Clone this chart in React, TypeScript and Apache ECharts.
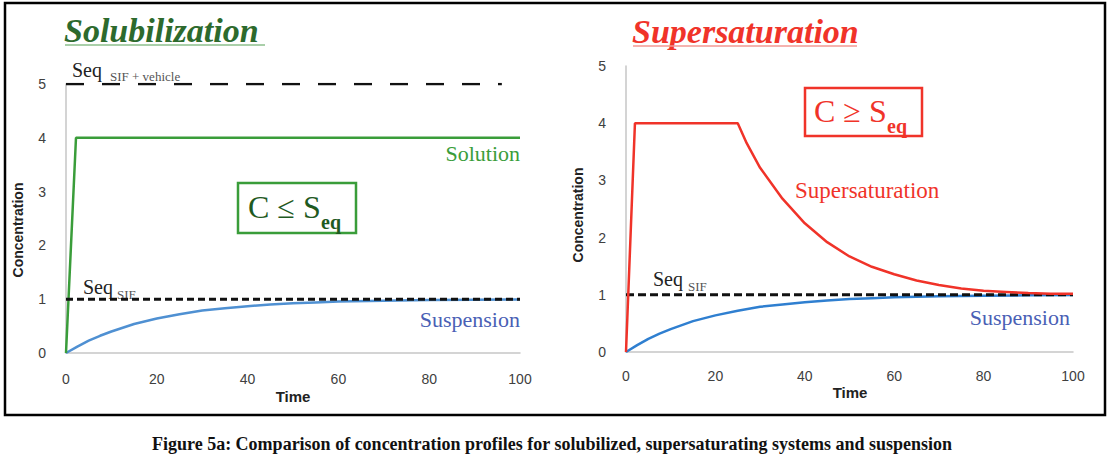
import React, { useEffect, useRef } from "react";
import * as echarts from "echarts";

// ---- Data ----
const solutionTime = [0, 2.2, 100];
const solutionConc = [0, 4, 4];

const suspensionTime = [0, 2.5, 5, 7.5, 10, 15, 20, 25, 30, 35, 40, 45, 50, 55, 60, 70, 80, 90, 100];
const suspensionConc = [0, 0.12, 0.23, 0.32, 0.4, 0.54, 0.64, 0.72, 0.79, 0.83, 0.87, 0.9, 0.925, 0.94, 0.955, 0.973, 0.985, 0.99, 0.995];

const superTime = [0, 2, 25, 27, 30, 35, 40, 45, 50, 55, 60, 65, 70, 75, 80, 85, 90, 95, 100];
const superConc = [0, 4, 4, 3.65, 3.22, 2.68, 2.25, 1.92, 1.67, 1.49, 1.36, 1.25, 1.17, 1.11, 1.07, 1.05, 1.03, 1.02, 1.02];

const seqVehicleTime = [0, 96];
const seqVehicleConc = [5, 5];
const seqSifTime = [0, 100];
const seqSifConc = [1, 1];

const timeMin = 0;
const timeMax = 100;
const timeStep = 20;
const concMin = 0;
const concMax = 5;
const concStep = 1;

const pairs = (xs: number[], ys: number[]) => xs.map((x, i) => [x, ys[i]]);

const GREEN = "#3a9d3a";
const DARK_GREEN = "#2d6a2d";
const BLUE = "#5b9bd5";
const BLUE_TEXT = "#4a5fb5";
const RED = "#f03329";
const SERIF = "'Liberation Serif', 'DejaVu Serif', serif";
const SANS = "'Liberation Sans', 'DejaVu Sans', sans-serif";

function txt(x: number, y: number, text: string, s: any, extra: any = {}) {
  return {
    type: "text",
    x,
    y,
    ...extra,
    style: {
      text,
      fontFamily: SERIF,
      align: s.align || "left",
      textAlign: s.align || "left",
      verticalAlign: s.va || "middle",
      textVerticalAlign: s.va || "middle",
      ...s,
    },
  };
}

export default function App() {
  const ref = useRef<HTMLDivElement>(null);

  useEffect(() => {
    document.body.style.margin = "0";
    if (!ref.current) return;
    const chart = echarts.init(ref.current, undefined, { renderer: "svg" });

    const xAxisBase = {
      type: "value",
      min: timeMin,
      max: timeMax,
      interval: timeStep,
      axisLine: { show: true, lineStyle: { color: "#c6c6c6", width: 1.5 } },
      axisTick: { show: false },
      splitLine: { show: false },
      axisLabel: { color: "#404040", fontSize: 14, fontFamily: SANS },
    };
    const yAxisBase = {
      type: "value",
      min: concMin,
      max: concMax,
      interval: concStep,
      axisLine: { show: true, lineStyle: { color: "#c6c6c6", width: 1.5 } },
      axisTick: { show: false },
      splitLine: { show: false },
      axisLabel: { color: "#404040", fontSize: 14, fontFamily: SANS },
    };

    const lineSeries = (name: string, xi: number, data: number[][], color: string, width: number, type: any = "solid", z = 2) => ({
      name,
      type: "line",
      xAxisIndex: xi,
      yAxisIndex: xi,
      data,
      symbol: "none",
      showSymbol: false,
      z,
      lineStyle: { color, width, type, cap: "butt" },
      emphasis: { disabled: true },
    });

    chart.setOption({
      animation: false,
      backgroundColor: "#ffffff",
      grid: [
        { left: 66, top: 84, width: 454, height: 269 },
        { left: 626, top: 66, width: 447, height: 286 },
      ],
      xAxis: [
        { ...xAxisBase, gridIndex: 0, axisLabel: { ...xAxisBase.axisLabel, margin: 19 } },
        { ...xAxisBase, gridIndex: 1, axisLabel: { ...xAxisBase.axisLabel, margin: 17 } },
      ],
      yAxis: [
        { ...yAxisBase, gridIndex: 0, axisLabel: { ...yAxisBase.axisLabel, margin: 20 } },
        { ...yAxisBase, gridIndex: 1, axisLabel: { ...yAxisBase.axisLabel, margin: 20 } },
      ],
      series: [
        lineSeries("Suspension", 0, pairs(suspensionTime, suspensionConc), "#4f90d2", 2.5),
        lineSeries("Solution", 0, pairs(solutionTime, solutionConc), GREEN, 2.5),
        lineSeries("Seq SIF + vehicle", 0, pairs(seqVehicleTime, seqVehicleConc), "#111", 2.5, [18, 18], 3),
        lineSeries("Seq SIF", 0, pairs(seqSifTime, seqSifConc), "#111", 3, [7, 4], 3),
        lineSeries("Suspension", 1, pairs(suspensionTime, suspensionConc), "#2f7fd0", 2.5),
        lineSeries("Seq SIF", 1, pairs(seqSifTime, seqSifConc), "#111", 3, [8, 4], 3),
        lineSeries("Supersaturation", 1, pairs(superTime, superConc), RED, 2.5, "solid", 4),
      ],
      graphic: [
        // outer frame
        { type: "rect", shape: { x: 5, y: 3, width: 1100, height: 412 }, style: { fill: "none", stroke: "#000", lineWidth: 2.5 }, z: 100 },
        // titles
        txt(64, 30, "Solubilization", { fill: DARK_GREEN, fontSize: 34, fontWeight: "bold", fontStyle: "italic" }),
        { type: "line", shape: { x1: 65, y1: 45, x2: 265, y2: 45 }, style: { stroke: "#8cbf8c", lineWidth: 1.5 } },
        txt(632, 31, "Supersaturation", { fill: RED, fontSize: 34, fontWeight: "bold", fontStyle: "italic" }),
        { type: "line", shape: { x1: 633, y1: 46, x2: 857, y2: 46 }, style: { stroke: "#f29a94", lineWidth: 1.5 } },
        // axis titles
        txt(293, 396, "Time", { fill: "#222", fontSize: 15, fontWeight: "bold", fontFamily: SANS, align: "center" }),
        txt(850, 392, "Time", { fill: "#222", fontSize: 15, fontWeight: "bold", fontFamily: SANS, align: "center" }),
        txt(18, 230, "Concentration", { fill: "#222", fontSize: 14, fontWeight: "bold", fontFamily: SANS, align: "center" }, { rotation: Math.PI / 2 }),
        txt(578, 215, "Concentration", { fill: "#222", fontSize: 14, fontWeight: "bold", fontFamily: SANS, align: "center" }, { rotation: Math.PI / 2 }),
        // Seq labels
        txt(72, 70, "Seq", { fill: "#222", fontSize: 20 }),
        txt(110, 76, "SIF + vehicle", { fill: "#555", fontSize: 13 }),
        txt(83, 287, "Seq", { fill: "#222", fontSize: 20 }),
        txt(117, 294, "SIF", { fill: "#555", fontSize: 13 }),
        txt(653, 279, "Seq", { fill: "#222", fontSize: 20 }),
        txt(688, 286, "SIF", { fill: "#555", fontSize: 13 }),
        // series labels
        txt(520, 153, "Solution", { fill: GREEN, fontSize: 22, align: "right" }),
        txt(520, 319, "Suspension", { fill: BLUE_TEXT, fontSize: 22, align: "right" }),
        txt(795, 190, "Supersaturation", { fill: RED, fontSize: 23 }),
        txt(1070, 317, "Suspension", { fill: BLUE_TEXT, fontSize: 22, align: "right" }),
        // left box
        { type: "rect", shape: { x: 238, y: 183, width: 118, height: 50 }, style: { fill: "none", stroke: GREEN, lineWidth: 2.5 } },
        txt(248, 207, "C ≤ S", { fill: "#1f5a1f", fontSize: 32 }),
        txt(321, 222, "eq", { fill: "#1f5a1f", fontSize: 20, fontWeight: "bold" }),
        // right box
        { type: "rect", shape: { x: 805, y: 88, width: 117, height: 48 }, style: { fill: "none", stroke: RED, lineWidth: 2.5 } },
        txt(814, 111, "C ≥ S", { fill: RED, fontSize: 32 }),
        txt(887, 126, "eq", { fill: RED, fontSize: 20, fontWeight: "bold" }),
        // caption
        txt(552, 444, "Figure 5a: Comparison of concentration profiles for solubilized, supersaturating systems and suspension", { fill: "#111", fontSize: 18, fontWeight: "bold", align: "center" }),
      ],
    });

    return () => chart.dispose();
  }, []);

  return <div ref={ref} style={{ width: 1112, height: 458, background: "#fff" }} />;
}
